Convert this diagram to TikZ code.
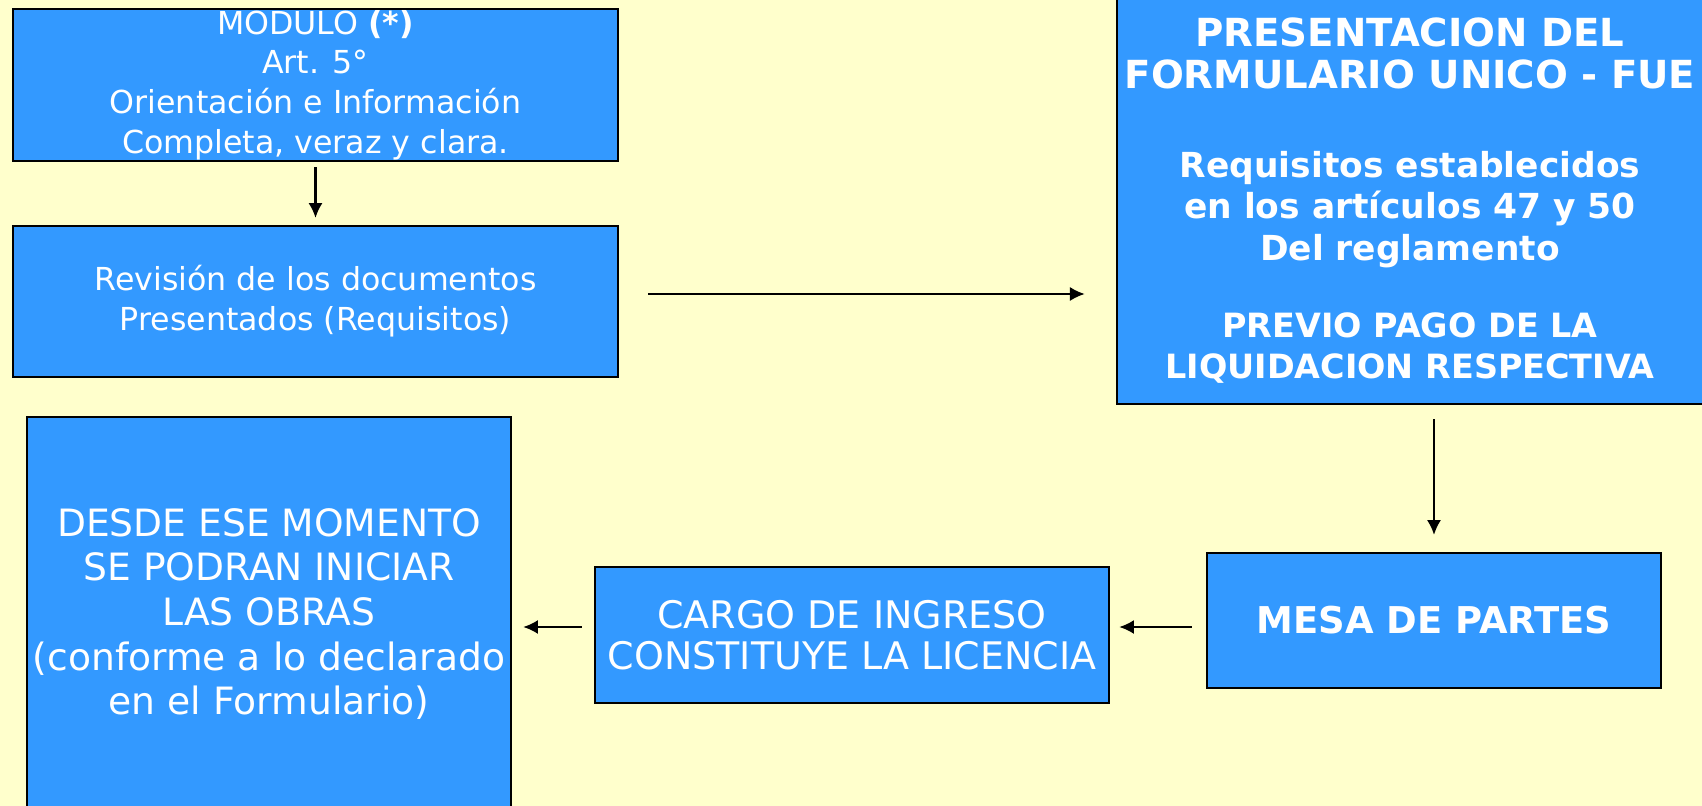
\documentclass[tikz,border=0pt]{standalone}
\usepackage{fontspec}
\setmainfont{DejaVu Sans}
\usetikzlibrary{arrows.meta, positioning}
\definecolor{fondo}{HTML}{FFFFCC}
\definecolor{azul}{HTML}{3399FF}

\begin{document}
\begin{tikzpicture}[
        x=0.01cm, y=-0.01cm,
        caja/.style={rectangle, draw=black, line width=0.6pt, fill=azul, text=white, align=center, inner sep=0pt},
        flecha/.style={-{Latex[length=4.2pt, width=4pt]}, line width=0.6pt},
    ]
        \useasboundingbox (0,0) rectangle (1702,806);
        \clip (0,0) rectangle (1702,806);
        \fill[fondo] (0,0) rectangle (1702,806);

        \node[caja, minimum width=6.05cm, minimum height=1.52cm, font=\fontsize{9}{11.3}\selectfont] (modulo) at (315.5,85) {MODULO \textbf{(*)}\\Art. 5°\\Orientación e Información\\Completa, veraz y clara.};
        \node[caja, minimum width=6.05cm, minimum height=1.51cm, font=\fontsize{9}{11.4}\selectfont] (revision) at (315.5,301.5) {Revisión de los documentos\\Presentados (Requisitos)};
        \node[caja, minimum width=5.86cm, minimum height=4.06cm, font=\bfseries\fontsize{9.8}{11.8}\selectfont] (presentacion) at (1410,201) {{\fontsize{11}{11.8}\selectfont PRESENTACION DEL}\\{\fontsize{11}{11.8}\selectfont FORMULARIO UNICO - FUE}\\[13.5pt]Requisitos establecidos\\en los artículos 47 y 50\\Del reglamento\\[10.1pt]{\fontsize{9.5}{11.8}\selectfont PREVIO PAGO DE LA}\\{\fontsize{9.5}{11.8}\selectfont LIQUIDACION RESPECTIVA}};
        \node[caja, minimum width=4.54cm, minimum height=1.35cm, font=\bfseries\fontsize{10.5}{12}\selectfont] (mesa) at (1434,620.5) {MESA DE PARTES};
        \node[caja, minimum width=5.14cm, minimum height=1.36cm, font=\fontsize{10.8}{11.7}\selectfont] (cargo) at (852,635) {CARGO DE INGRESO\\CONSTITUYE LA LICENCIA};
        \node[caja, minimum width=4.84cm, minimum height=3.94cm, font=\fontsize{10.7}{12.7}\selectfont] (desde) at (269,614) {DESDE ESE MOMENTO\\SE PODRAN INICIAR\\LAS OBRAS\\(conforme a lo declarado\\en el Formulario)};

        \coordinate (rev_out) at ([yshift=0.075cm]revision.east);
        \coordinate (mesa_out) at ([yshift=-0.065cm]mesa.west);
        \coordinate (cargo_out) at ([yshift=0.08cm]cargo.west);

        \draw[flecha, shorten <=0.05cm, shorten >=0.07cm] (modulo) -- (revision);
        \draw[flecha, shorten <=0.29cm, shorten >=0.31cm] (rev_out) -- (rev_out -| presentacion.west);
        \draw[flecha, shorten <=0.14cm, shorten >=0.17cm] (presentacion.south -| mesa.north) -- (mesa.north);
        \draw[flecha, shorten <=0.14cm, shorten >=0.09cm] (mesa_out) -- (mesa_out -| cargo.east);
        \draw[flecha, shorten <=0.12cm, shorten >=0.11cm] (cargo_out) -- (cargo_out -| desde.east);
    \end{tikzpicture}
\end{document}
